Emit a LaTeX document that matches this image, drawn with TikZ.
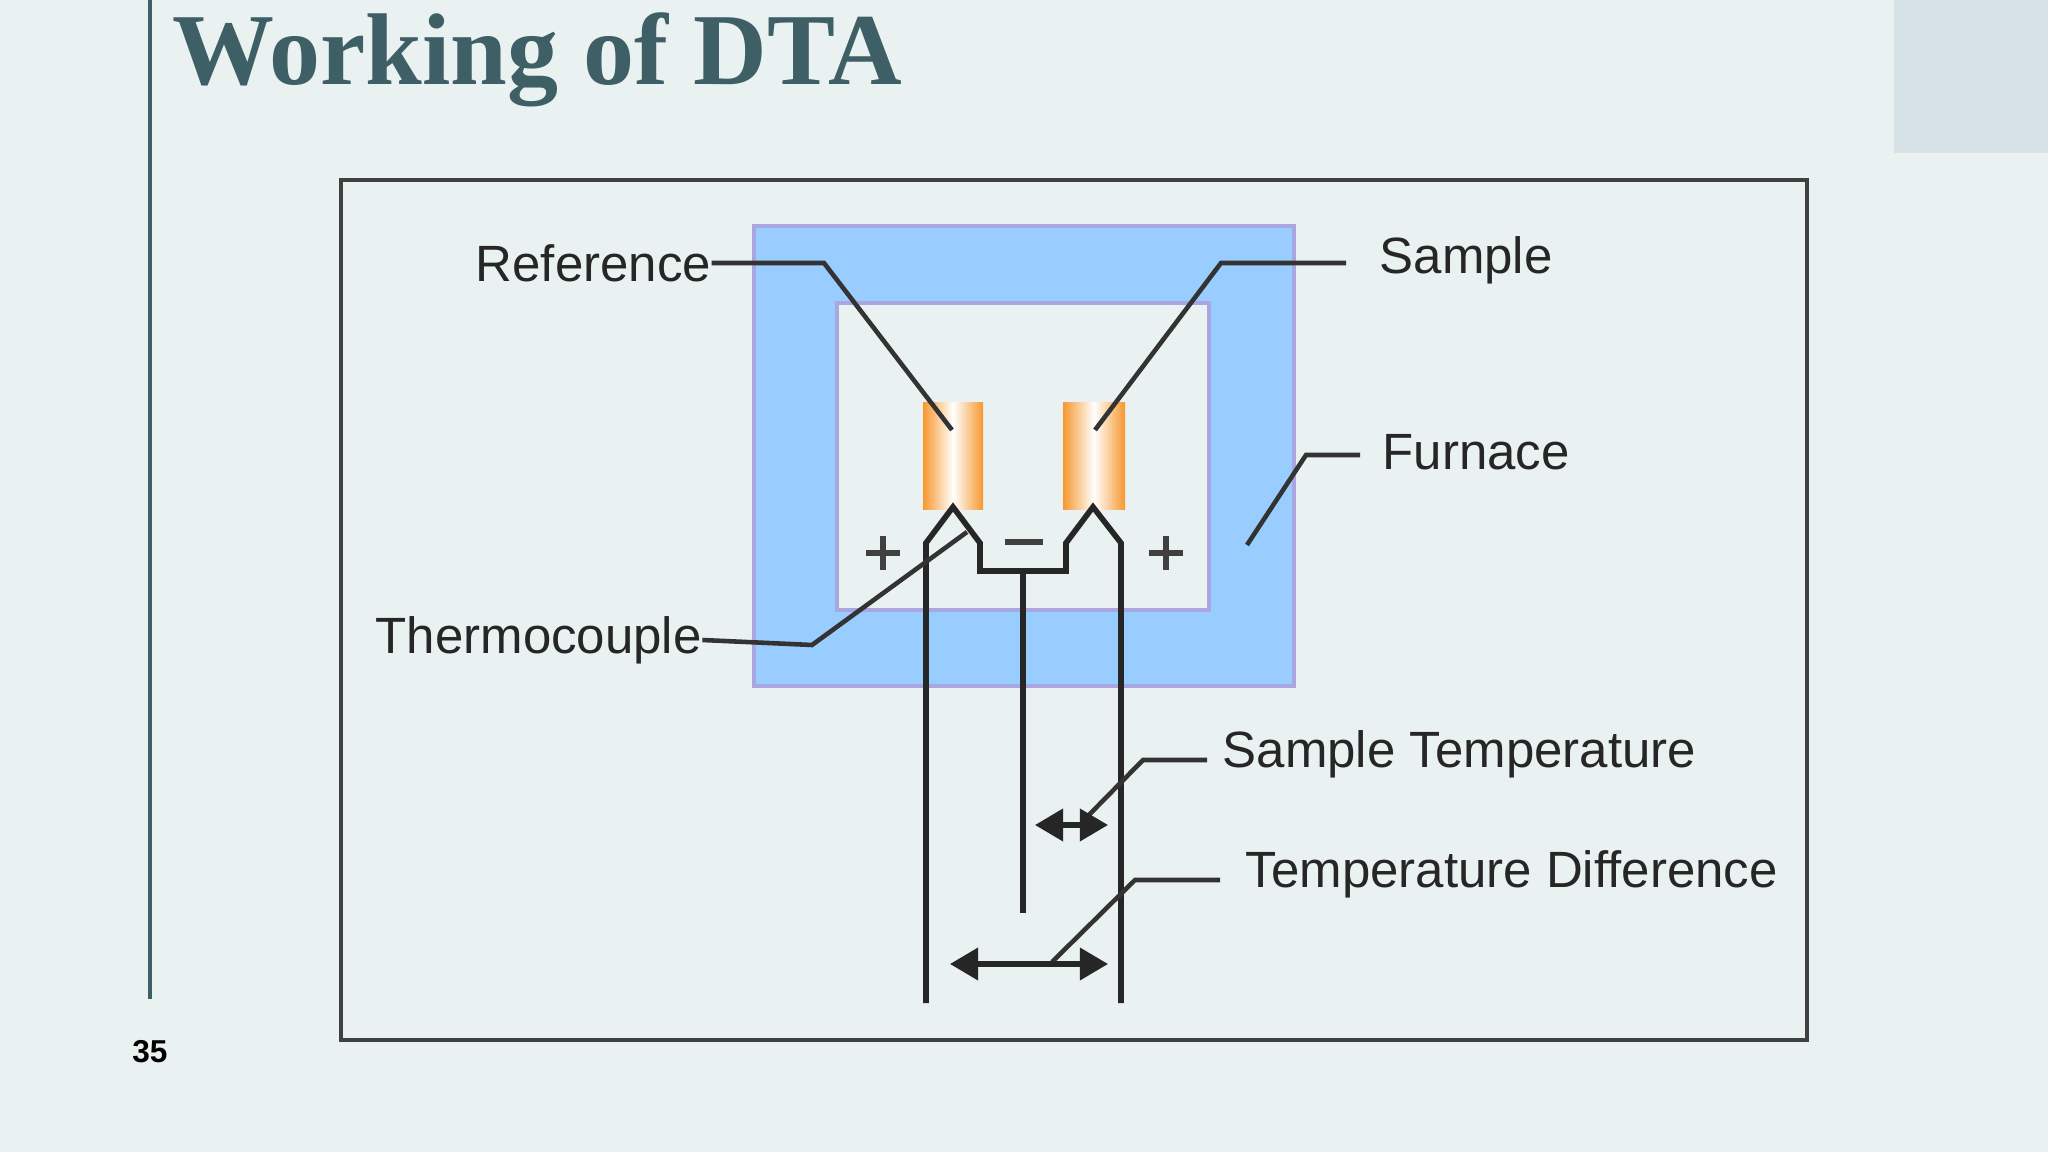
\documentclass[tikz,border=0pt]{standalone}
\usepackage{fontspec}
\setmainfont{Liberation Serif}
\setsansfont{Liberation Sans}
\usetikzlibrary{arrows.meta}
\definecolor{bg}{HTML}{EAF1F1}
\definecolor{corner}{HTML}{D6E2E6}
\definecolor{titlec}{HTML}{3E5F66}
\definecolor{furn}{HTML}{99CCFF}
\definecolor{furnb}{HTML}{A9A6E0}
\definecolor{orng}{HTML}{F7982F}
\tikzset{
  lbl/.style={font=\sffamily\fontsize{14.5}{16}\selectfont, text=black!85, inner sep=0pt},
  wire/.style={line width=1.6pt, black!85},
  lead/.style={line width=1.3pt, black!80},
  cyl/.style={left color=orng, right color=orng, middle color=white, draw=none},
  dbl/.style={line width=1.5pt, black!85, {Triangle[length=8pt,width=9pt]}-{Triangle[length=8pt,width=9pt]}}
}
\begin{document}
\begin{tikzpicture}[x=0.01cm,y=-0.01cm]
\fill[bg] (0,0) rectangle (2048,1152);
\useasboundingbox (0,0) rectangle (2048,1152);
\fill[corner] (1894,0) rectangle (2048,153);
\draw[titlec, line width=1.2pt] (150,0) -- (150,999);
\node[anchor=west, text=titlec, font=\bfseries\fontsize{29}{32}\selectfont, inner sep=0pt] (title) at (172,60) {Working of DTA};
\node[font=\sffamily\bfseries\fontsize{9}{10}\selectfont, inner sep=0pt] (pg) at (150,1052) {35};
% frame
\draw[black!75, line width=1.3pt] (341,180) rectangle (1807,1040);
% furnace
\fill[furn, draw=furnb, line width=1.2pt] (754,226) rectangle (1294,686);
\fill[bg, draw=furnb, line width=1.2pt] (837,303) rectangle (1209,610);
% crucibles
\shade[cyl] (923,403) rectangle (983,510);
\shade[cyl] (1063,403) rectangle (1125,510);
% thermocouple wires
\coordinate (rj) at (953,507);
\coordinate (sj) at (1093,507);
\draw[wire] (926,1003) -- (926,543) -- (rj) -- (980,543) -- (980,571) -- (1066,571) -- (1066,543) -- (sj) -- (1121,543) -- (1121,1003);
\draw[wire] (1023,571) -- (1023,913);
% signs
\draw[line width=1.5pt, black!75] (1005,542) -- (1043,542);
\draw[line width=1.5pt, black!75] (866,553) -- (900,553) (883,536) -- (883,570);
\draw[line width=1.5pt, black!75] (1149,553) -- (1183,553) (1166,536) -- (1166,570);
% labels
\node[lbl, anchor=west] (ref) at (475,263) {Reference};
\node[lbl, anchor=west] (sam) at (1379,260) {Sample};
\node[lbl, anchor=west] (fur) at (1382,452) {Furnace};
\node[lbl, anchor=west] (tc) at (375,640) {Thermocouple};
\node[lbl, anchor=west] (st) at (1222,754) {Sample Temperature};
\node[lbl, anchor=west] (td) at (1245,874) {Temperature Difference};
% leaders
\coordinate (refp) at (952,430);
\coordinate (samp) at (1095,430);
\draw[lead] (ref.east) -- (824,263) -- (refp);
\draw[lead] (1346,263) -- (1221,263) -- (samp);
\draw[lead] (1360,455) -- (1306,455) -- (1247,545);
\draw[lead] (tc.east) -- (812,645) -- (967,532);
\draw[lead] (1207,760) -- (1143,760) -- (1082,822);
\draw[lead] (1220,880) -- (1135,880) -- (1052,962);
% arrows
\coordinate (a1) at (1035,825); \coordinate (a2) at (1108,825);
\coordinate (b1) at (950,964); \coordinate (b2) at (1108,964);
\draw[dbl] (a1) -- (a2);
\draw[dbl] (b1) -- (b2);
\end{tikzpicture}
\end{document}
